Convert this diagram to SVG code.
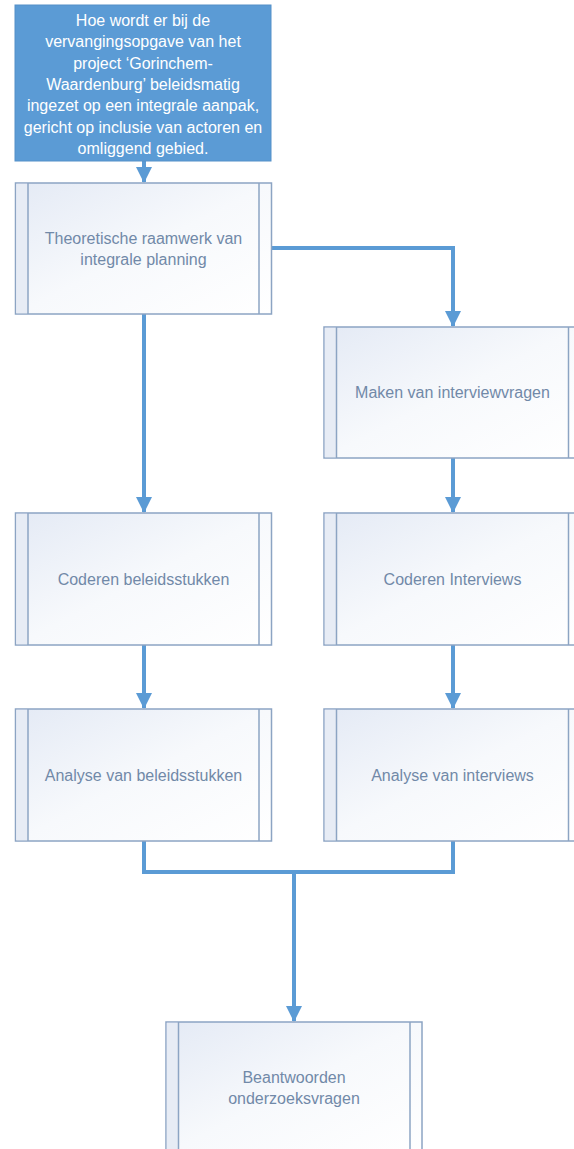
<svg xmlns="http://www.w3.org/2000/svg" width="574" height="1149" viewBox="0 0 574 1149">
<style>
.box{fill:url(#g);stroke:#8ca4c3;stroke-width:1.5}
.bar{stroke:#8ca4c3;stroke-width:1.5}
.strip{fill:#e7ecf5}
.t{font-family:"Liberation Sans",Arial,sans-serif;font-size:16px;fill:#7189a8;text-anchor:middle}
.tw{font-family:"Liberation Sans",Arial,sans-serif;font-size:16px;fill:#ffffff;text-anchor:middle}
.c{fill:none;stroke:#5b9bd5;stroke-width:4}
</style>
<defs>
<linearGradient id="g" x1="0" y1="0" x2="1" y2="1">
<stop offset="0" stop-color="#e4eaf5"/>
<stop offset="0.5" stop-color="#f7f9fc"/>
<stop offset="1" stop-color="#ffffff"/>
</linearGradient>
<marker id="a" markerUnits="userSpaceOnUse" markerWidth="16" markerHeight="16" viewBox="0 0 16 16" refX="15" refY="8" orient="auto">
<path d="M0,0 L16,8 L0,16 Z" fill="#5b9bd5"/>
</marker>
</defs>
<rect width="574" height="1149" fill="#ffffff"/>

<g id="connectors">
<path class="c" d="M144,161 V182" marker-end="url(#a)"/>
<path class="c" d="M272,248 H453 V326" marker-end="url(#a)"/>
<path class="c" d="M144,314 V512" marker-end="url(#a)"/>
<path class="c" d="M453,458 V512" marker-end="url(#a)"/>
<path class="c" d="M144,645 V708" marker-end="url(#a)"/>
<path class="c" d="M453,645 V708" marker-end="url(#a)"/>
<path class="c" d="M144,841 V872 H453 V841"/>
<path class="c" d="M294,872 V1021" marker-end="url(#a)"/>
</g>

<g id="n-question">
<rect x="15" y="5" width="256" height="156" fill="#5b9bd5" stroke="#5590c8" stroke-width="1"/>
<text class="tw" x="143" y="26">Hoe wordt er bij de</text>
<text class="tw" x="143" y="47.3">vervangingsopgave van het</text>
<text class="tw" x="143" y="68.6">project ‘Gorinchem-</text>
<text class="tw" x="143" y="89.9">Waardenburg’ beleidsmatig</text>
<text class="tw" x="143" y="111.2">ingezet op een integrale aanpak,</text>
<text class="tw" x="143" y="132.5">gericht op inclusie van actoren en</text>
<text class="tw" x="143" y="153.8">omliggend gebied.</text>
</g>

<g id="n-theorie">
<rect class="box" x="15.5" y="183" width="256" height="131"/>
<rect class="strip" x="16.25" y="183.75" width="11.5" height="129.5"/>
<line class="bar" x1="28" y1="183" x2="28" y2="314"/>
<line class="bar" x1="259" y1="183" x2="259" y2="314"/>
<text class="t" x="143.5" y="243.5">Theoretische raamwerk van</text>
<text class="t" x="143.5" y="265">integrale planning</text>
</g>

<g id="n-maken">
<rect class="box" x="324" y="327" width="257" height="131"/>
<rect class="strip" x="324.75" y="327.75" width="11.5" height="129.5"/>
<line class="bar" x1="336.5" y1="327" x2="336.5" y2="458"/>
<line class="bar" x1="568.5" y1="327" x2="568.5" y2="458"/>
<text class="t" x="452.5" y="398">Maken van interviewvragen</text>
</g>

<g id="n-coderen-beleid">
<rect class="box" x="15.5" y="513" width="256" height="132"/>
<rect class="strip" x="16.25" y="513.75" width="11.5" height="130.5"/>
<line class="bar" x1="28" y1="513" x2="28" y2="645"/>
<line class="bar" x1="259" y1="513" x2="259" y2="645"/>
<text class="t" x="143.5" y="584.5">Coderen beleidsstukken</text>
</g>

<g id="n-coderen-interviews">
<rect class="box" x="324" y="513" width="257" height="132"/>
<rect class="strip" x="324.75" y="513.75" width="11.5" height="130.5"/>
<line class="bar" x1="336.5" y1="513" x2="336.5" y2="645"/>
<line class="bar" x1="568.5" y1="513" x2="568.5" y2="645"/>
<text class="t" x="452.5" y="584.5">Coderen Interviews</text>
</g>

<g id="n-analyse-beleid">
<rect class="box" x="15.5" y="709" width="256" height="132"/>
<rect class="strip" x="16.25" y="709.75" width="11.5" height="130.5"/>
<line class="bar" x1="28" y1="709" x2="28" y2="841"/>
<line class="bar" x1="259" y1="709" x2="259" y2="841"/>
<text class="t" x="143.5" y="780.5">Analyse van beleidsstukken</text>
</g>

<g id="n-analyse-interviews">
<rect class="box" x="324" y="709" width="257" height="132"/>
<rect class="strip" x="324.75" y="709.75" width="11.5" height="130.5"/>
<line class="bar" x1="336.5" y1="709" x2="336.5" y2="841"/>
<line class="bar" x1="568.5" y1="709" x2="568.5" y2="841"/>
<text class="t" x="452.5" y="780.5">Analyse van interviews</text>
</g>

<g id="n-beantwoorden">
<rect class="box" x="166" y="1022" width="256" height="132"/>
<rect class="strip" x="166.75" y="1022.75" width="11.5" height="130.5"/>
<line class="bar" x1="178.5" y1="1022" x2="178.5" y2="1154"/>
<line class="bar" x1="410" y1="1022" x2="410" y2="1154"/>
<text class="t" x="294" y="1083">Beantwoorden</text>
<text class="t" x="294" y="1104">onderzoeksvragen</text>
</g>
</svg>
